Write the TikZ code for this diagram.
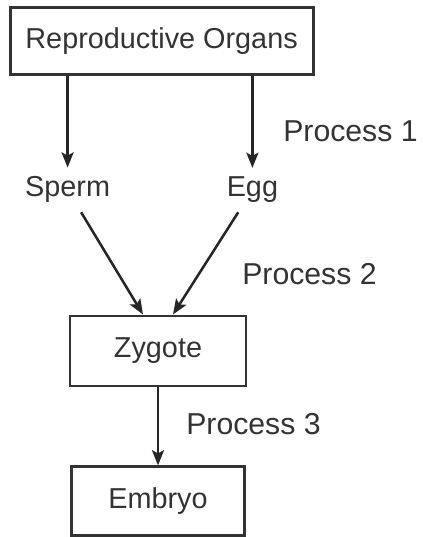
\documentclass[tikz,border=0pt]{standalone}
\usepackage{fontspec}
\setmainfont{Liberation Sans}
\usetikzlibrary{arrows.meta}
\begin{document}
\begin{tikzpicture}[
        box/.style={draw=black!80, text=black!80, line width=2.1pt, inner sep=0, font=\fontsize{20.5}{24}\selectfont},
        lbl/.style={text=black!80, inner sep=0.225cm, anchor=base, font=\fontsize{20.5}{24}\selectfont},
        proc/.style={text=black!80, inner sep=0, anchor=base west, font=\fontsize{21.5}{26}\selectfont},
        arr/.style={draw=black!85, line width=1.8pt, -{Stealth[length=0.38cm,width=0.3cm,inset=0.08cm]}}]
        \useasboundingbox (0,0) rectangle (10.55,13.425);

        \node[box, minimum width=7.575cm, minimum height=1.675cm] (organs) at (4.04,12.41) {Reproductive Organs};
        \node[lbl] (sperm) at (1.69,8.5) {Sperm};
        \node[lbl] (egg) at (6.31,8.5) {Egg};
        \node[box, minimum width=4.4cm, minimum height=1.75cm] (zygote) at (3.95,4.65) {Zygote};
        \node[box, minimum width=4.325cm, minimum height=1.725cm] (embryo) at (3.95,0.89) {Embryo};

        \node[proc] (proc1) at (7.075,9.875) {Process 1};
        \node[proc] (proc2) at (6.05,6.3) {Process 2};
        \node[proc] (proc3) at (4.65,2.55) {Process 3};

        \draw[arr] (organs.south -| sperm.north) to (sperm.north);
        \draw[arr] (organs.south -| egg.north) to (egg.north);
        \draw[arr] (sperm) to ([xshift=-0.375cm]zygote.north);
        \draw[arr] (egg) to ([xshift=0.375cm]zygote.north);
        \draw[arr] (zygote.south) to (embryo.north);

    \end{tikzpicture}
\end{document}
